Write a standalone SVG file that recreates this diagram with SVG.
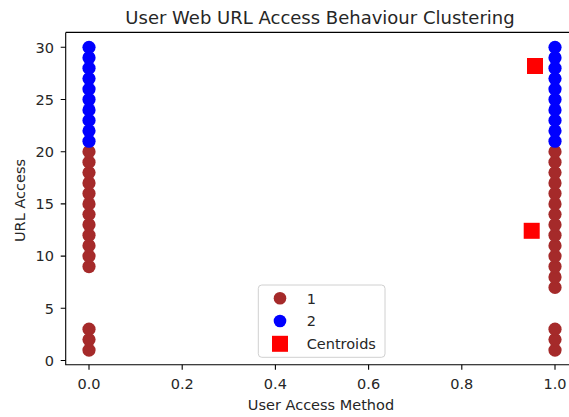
<svg xmlns="http://www.w3.org/2000/svg" width="569" height="417" viewBox="0 0 569 417">
<style>
text{font-family:"DejaVu Sans","Liberation Sans",sans-serif;fill:#262626}
.tk{font-size:14.5px}
.yt{text-anchor:end}
.xt{text-anchor:middle}
.b{fill:#a52a2a}
.u{fill:#0000ff}
.c{fill:#ff0000}
.sp{stroke:#000;stroke-width:1.1;fill:none}
.tm{stroke:#000;stroke-width:1.1}
</style>
<rect width="569" height="417" fill="#fff"/>
<g id="title"><text x="320" y="23.5" text-anchor="middle" font-size="18">User Web URL Access Behaviour Clustering</text></g>
<g id="cluster1">
<circle class="b" cx="89" cy="350.06" r="6.6"/><circle class="b" cx="89" cy="339.62" r="6.6"/><circle class="b" cx="89" cy="329.18" r="6.6"/>
<circle class="b" cx="89" cy="266.54" r="6.6"/><circle class="b" cx="89" cy="256.1" r="6.6"/><circle class="b" cx="89" cy="245.66" r="6.6"/><circle class="b" cx="89" cy="235.22" r="6.6"/><circle class="b" cx="89" cy="224.78" r="6.6"/><circle class="b" cx="89" cy="214.34" r="6.6"/><circle class="b" cx="89" cy="203.9" r="6.6"/><circle class="b" cx="89" cy="193.46" r="6.6"/><circle class="b" cx="89" cy="183.02" r="6.6"/><circle class="b" cx="89" cy="172.58" r="6.6"/><circle class="b" cx="89" cy="162.14" r="6.6"/><circle class="b" cx="89" cy="151.7" r="6.6"/>
<circle class="b" cx="555" cy="350.06" r="6.6"/><circle class="b" cx="555" cy="339.62" r="6.6"/><circle class="b" cx="555" cy="329.18" r="6.6"/>
<circle class="b" cx="555" cy="287.42" r="6.6"/><circle class="b" cx="555" cy="276.98" r="6.6"/><circle class="b" cx="555" cy="266.54" r="6.6"/><circle class="b" cx="555" cy="256.1" r="6.6"/><circle class="b" cx="555" cy="245.66" r="6.6"/><circle class="b" cx="555" cy="235.22" r="6.6"/><circle class="b" cx="555" cy="224.78" r="6.6"/><circle class="b" cx="555" cy="214.34" r="6.6"/><circle class="b" cx="555" cy="203.9" r="6.6"/><circle class="b" cx="555" cy="193.46" r="6.6"/><circle class="b" cx="555" cy="183.02" r="6.6"/><circle class="b" cx="555" cy="172.58" r="6.6"/><circle class="b" cx="555" cy="162.14" r="6.6"/><circle class="b" cx="555" cy="151.7" r="6.6"/>
</g>
<g id="cluster2">
<circle class="u" cx="89" cy="141.26" r="6.6"/><circle class="u" cx="89" cy="130.82" r="6.6"/><circle class="u" cx="89" cy="120.38" r="6.6"/><circle class="u" cx="89" cy="109.94" r="6.6"/><circle class="u" cx="89" cy="99.5" r="6.6"/><circle class="u" cx="89" cy="89.06" r="6.6"/><circle class="u" cx="89" cy="78.62" r="6.6"/><circle class="u" cx="89" cy="68.18" r="6.6"/><circle class="u" cx="89" cy="57.74" r="6.6"/><circle class="u" cx="89" cy="47.3" r="6.6"/>
<circle class="u" cx="555" cy="141.26" r="6.6"/><circle class="u" cx="555" cy="130.82" r="6.6"/><circle class="u" cx="555" cy="120.38" r="6.6"/><circle class="u" cx="555" cy="109.94" r="6.6"/><circle class="u" cx="555" cy="99.5" r="6.6"/><circle class="u" cx="555" cy="89.06" r="6.6"/><circle class="u" cx="555" cy="78.62" r="6.6"/><circle class="u" cx="555" cy="68.18" r="6.6"/><circle class="u" cx="555" cy="57.74" r="6.6"/><circle class="u" cx="555" cy="47.3" r="6.6"/>
</g>
<g id="centroids">
<rect class="c" x="527" y="58" width="16" height="16"/>
<rect class="c" x="523.7" y="222.8" width="16" height="16"/>
</g>
<g id="axes">
<path class="sp" d="M65.7,32.4 H569 M65.7,32.4 V364.7 H569"/>
<g class="tm">
<path d="M60.7,360.5H65.7M60.7,308.3H65.7M60.7,256.1H65.7M60.7,203.9H65.7M60.7,151.7H65.7M60.7,99.5H65.7M60.7,47.3H65.7"/>
<path d="M89,364.7V369.7M182.2,364.7V369.7M275.4,364.7V369.7M368.6,364.7V369.7M461.8,364.7V369.7M555,364.7V369.7"/>
</g>
<g class="tk yt">
<text x="54" y="365.8">0</text><text x="54" y="313.6">5</text><text x="54" y="261.4">10</text><text x="54" y="209.2">15</text><text x="54" y="157">20</text><text x="54" y="104.8">25</text><text x="54" y="52.6">30</text>
</g>
<g class="tk xt">
<text x="89" y="389">0.0</text><text x="182.2" y="389">0.2</text><text x="275.4" y="389">0.4</text><text x="368.6" y="389">0.6</text><text x="461.8" y="389">0.8</text><text x="555" y="389">1.0</text>
</g>
<text class="tk" x="321" y="409.5" text-anchor="middle">User Access Method</text>
<text class="tk" transform="translate(24.5,200.5) rotate(-90)" text-anchor="middle">URL Access</text>
</g>
<g id="legend">
<rect x="258.3" y="285" width="126.7" height="72.3" rx="3.5" fill="#fff" fill-opacity="0.8" stroke="#d0d0d0" stroke-width="1"/>
<circle class="b" cx="280" cy="298.3" r="6.3"/>
<circle class="u" cx="280" cy="321" r="6.3"/>
<rect class="c" x="272" y="335.8" width="16" height="16"/>
<text class="tk" x="306.7" y="303.6">1</text>
<text class="tk" x="306.7" y="326.3">2</text>
<text class="tk" x="306.7" y="348.6">Centroids</text>
</g>
</svg>
